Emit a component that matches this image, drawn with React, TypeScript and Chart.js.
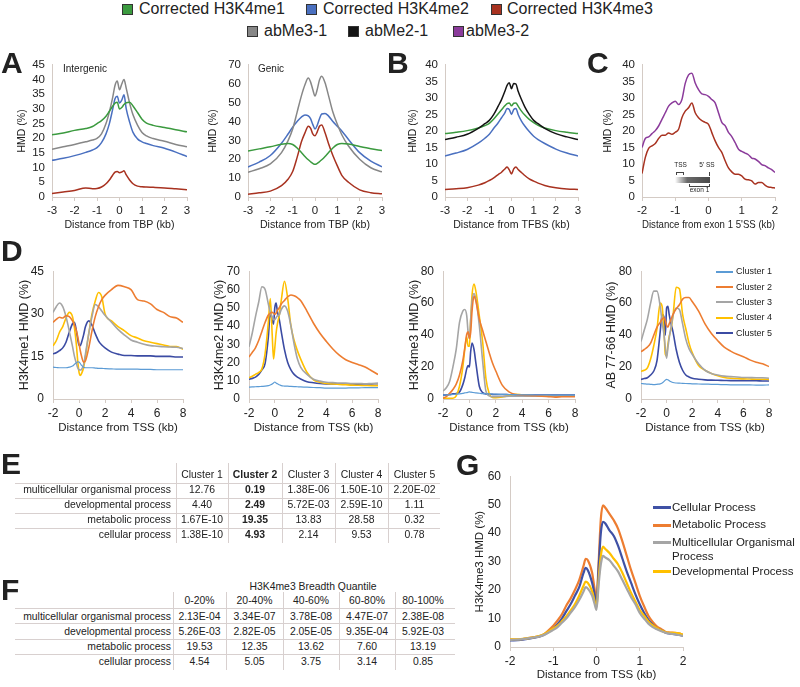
import React, { useEffect, useRef } from "react";
import { Chart, registerables } from "chart.js";

Chart.register(...registerables);

const FONT = '"Liberation Sans", Arial, Helvetica, sans-serif';
const AXIS = "#d4cbc5";
const INK = "#222222";

const C_ME1 = "#3b9a3f";
const C_ME2 = "#4a70c0";
const C_ME3 = "#a83220";
const C_AB31 = "#878787";
const C_AB21 = "#141414";
const C_AB32 = "#8b3b9b";
const C_CL = ["#5b9bd5", "#ed7d31", "#a5a5a5", "#ffc000", "#3b4ba3"];
const C_G = ["#3f51a5", "#ed7d31", "#a5a5a5", "#ffc000"];

// ---------------- DATA ----------------
// Panel A / B : distance (kb)
const xA = [-3, -2.5, -2, -1.5, -1.2, -1, -0.8, -0.6, -0.45, -0.3, -0.2, -0.1, 0, 0.1, 0.2, 0.3, 0.45, 0.6, 0.8, 1, 1.2, 1.5, 2, 2.5, 3];

// A - Intergenic
const aInterMe1 = [21.2, 21.8, 22.7, 23.3, 24, 25, 26, 27.5, 29.2, 31, 32, 32.3, 30, 30.5, 31.5, 32.1, 32.3, 31, 28.8, 26.5, 25.2, 24.4, 23.7, 22.9, 22.2];
const aInterMe2 = [12.5, 13.2, 14.1, 15.2, 16, 16.8, 18.5, 21.5, 25, 30, 33.5, 34.3, 32, 33, 34.8, 30, 25.5, 22, 19.8, 18.8, 18.2, 17.5, 16.6, 15.3, 13.8];
const aInterMe3 = [1.2, 1.7, 2.2, 3.1, 2.8, 2.9, 3.4, 4.5, 5.8, 7.5, 8.5, 8.7, 8.3, 8.5, 8.9, 7.5, 5.8, 4.5, 3.7, 3.5, 3.4, 3.3, 3.1, 2.8, 2.5];
const aInterAb31 = [16.3, 17.1, 17.9, 18.8, 19.4, 20, 21.5, 25, 29, 34, 38, 39.5, 36.5, 38.5, 40, 37, 32, 28, 24.5, 22, 20.8, 19.9, 19, 17.9, 17.1];

// A - Genic
const aGenicMe1 = [24.4, 25.5, 26.6, 28, 28.4, 27.8, 26, 23.5, 21.5, 19.7, 18.7, 17.8, 17.3, 17.8, 18.7, 19.7, 21.5, 23.5, 26, 27.8, 28.4, 28.1, 26.8, 25.6, 24.6];
const aGenicMe2 = [15.9, 18.5, 22, 28.5, 33.5, 37, 40, 42.5, 43.5, 43, 41.5, 38.5, 36, 38, 41.5, 44, 44.3, 43, 40, 37.5, 35, 30.5, 23.5, 19, 16];
const aGenicMe3 = [1.5, 2.2, 3.1, 6, 9.5, 13.5, 21, 29.5, 34, 37.5, 36.5, 33.5, 32.5, 34.5, 37.5, 38.2, 34, 28.5, 22, 16.5, 11.5, 7.8, 3.8, 2.3, 1.7];
const aGenicAb31 = [13.1, 15, 17.5, 23.5, 30, 36, 45, 54, 59.5, 63, 61, 57, 53.5, 57, 62, 64, 60.5, 54, 45, 38.5, 33, 27, 20, 15.5, 13.3];

// B - TFBS
const bAb21 = [17.4, 18.1, 19, 20.8, 22.2, 23.2, 25, 27.5, 29.5, 32, 33.8, 34.6, 32.8, 34.4, 34.2, 32, 29.5, 27.3, 25, 23.2, 22.2, 20.8, 19.2, 18.2, 17.4];
const bMe1 = [19.2, 19.6, 20.1, 20.9, 21.6, 22.3, 23.6, 25.2, 26.4, 27.6, 28.3, 28.5, 27.6, 28.4, 28.5, 27.5, 26, 24.8, 23.5, 22.5, 21.7, 20.9, 20.1, 19.6, 19.2];
const bMe2 = [12.4, 13.3, 14.4, 16.3, 17.8, 19, 20.8, 22.5, 24, 25.5, 26.8, 26.5, 25, 26.5, 26.8, 25, 23, 21.5, 19.8, 18.4, 17.4, 16.2, 14.5, 13.3, 12.4];
const bMe3 = [2.3, 2.5, 2.8, 3.6, 4.3, 5, 5.8, 6.8, 7.5, 8.5, 9.1, 8.2, 7, 8.5, 9.1, 8.3, 7.4, 6.5, 5.5, 4.8, 4.2, 3.5, 2.8, 2.4, 2.3];

// C - exon 1 5'SS
const xC = [-2, -1.9, -1.8, -1.7, -1.6, -1.5, -1.4, -1.3, -1.2, -1.1, -1, -0.9, -0.8, -0.7, -0.6, -0.5, -0.4, -0.3, -0.2, -0.1, 0, 0.1, 0.2, 0.3, 0.4, 0.5, 0.6, 0.7, 0.8, 0.9, 1, 1.1, 1.2, 1.3, 1.4, 1.5, 1.6, 1.7, 1.8, 1.9, 2];
const cAb32 = [15, 17.7, 18.2, 19.2, 20.1, 21.5, 23.5, 25.5, 27.5, 28.5, 29, 28, 29.5, 34.4, 37, 37.5, 34.5, 32.5, 31.2, 31, 30.5, 29.5, 28.5, 25.5, 22.6, 21.6, 19.6, 18.3, 16.5, 14.5, 13.8, 13.3, 12.8, 11.8, 11.5, 10.8, 9.8, 9.5, 8.8, 8.3, 7.4];
const cMe3 = [7.1, 12, 14.7, 15.5, 16.2, 17.7, 18.7, 18.7, 19.4, 19, 19.6, 20.5, 24, 26, 27, 28.5, 25.5, 24, 23.1, 22.6, 22, 19.5, 17, 15, 13.5, 11, 8.8, 7.6, 6.9, 6.9, 6.4, 5.4, 5.2, 4.9, 3.9, 4.4, 4.4, 3.6, 3, 2.9, 2.7];

// D - clusters, distance from TSS
const xD = [-2, -1.75, -1.5, -1.25, -1, -0.75, -0.5, -0.35, -0.2, -0.1, 0, 0.1, 0.2, 0.35, 0.5, 0.75, 1, 1.25, 1.5, 1.75, 2, 2.5, 3, 3.5, 4, 4.5, 5, 5.5, 6, 6.5, 7, 7.5, 8];
const clusterNames = ["Cluster 1", "Cluster 2", "Cluster 3", "Cluster 4", "Cluster 5"];

const dMe1C1 = [11.2, 11.1, 11, 11, 11, 11.2, 11.6, 12.2, 12.8, 13.1, 13, 12.5, 11.8, 11.2, 11, 11, 11, 10.9, 10.8, 10.8, 10.7, 10.6, 10.5, 10.5, 10.5, 10.5, 10.4, 10.4, 10.3, 10.3, 10.3, 10.3, 10.3];
const dMe1C2 = [27, 28, 28.8, 28.5, 29.3, 29, 27.5, 26, 24, 22, 19.5, 17, 15, 13, 13.5, 18, 24, 29, 32.5, 35, 36.5, 38.5, 40, 39.5, 38.5, 35, 34.5, 33.5, 31.5, 30.5, 29, 28.5, 27];
const dMe1C3 = [30.5, 32.5, 33.8, 32.5, 29, 24, 18.5, 15, 12.5, 11, 10.3, 10.2, 10.5, 12, 16, 23, 29, 33.3, 32.5, 31, 29.5, 27, 24.5, 22.5, 20.8, 20, 19.3, 18.8, 18.6, 18.4, 18.3, 18.2, 17.8];
const dMe1C4 = [18.7, 20.5, 23.5, 25.5, 28.5, 30.5, 29, 25, 19, 13.5, 9.5, 8.3, 9, 11, 15, 23, 30, 34.5, 37.5, 36, 30, 27.5, 25.5, 24, 22.3, 21.5, 20.5, 20, 19.5, 19, 18.5, 18.5, 17.5];
const dMe1C5 = [15.9, 16.3, 17, 18, 20, 23.5, 26.5, 27, 24, 21, 19, 18.8, 20, 22.5, 25.5, 27.5, 26, 23, 20.5, 19, 18, 16.5, 15.8, 15.3, 15.3, 15.2, 15.2, 15.2, 15, 15, 15, 14.8, 14.8];

const dMe2C1 = [6.5, 6.6, 6.7, 6.8, 6.9, 7, 7.3, 7.7, 8.2, 8.8, 9.3, 8.8, 8.3, 7.8, 7.3, 7.1, 7, 6.9, 6.8, 6.7, 6.6, 6.5, 6.3, 6.2, 6, 6, 6, 6, 6.1, 6.1, 6.2, 6.2, 6.2];
const dMe2C2 = [23, 25.5, 28, 32, 37, 42, 46, 47, 47.5, 47, 46.5, 47, 48.5, 50, 52, 54, 56, 57, 56.5, 55.5, 54, 48, 41.5, 36, 31.5, 27.4, 24, 21.5, 20, 18.8, 17.5, 15.5, 13.4];
const dMe2C3 = [28.6, 36, 45, 53, 61.5, 60, 52, 47.5, 45, 43.5, 43.5, 44.5, 45.5, 46, 49, 51, 48, 40, 30, 22, 17.5, 13.5, 10.8, 9.8, 9.2, 9, 8.8, 8.7, 8.5, 8.5, 8.3, 8.5, 8.6];
const dMe2C4 = [11.7, 12.5, 13.5, 14.5, 16.5, 25, 42, 55, 35, 22, 28, 36, 41, 46, 54, 64.5, 55, 40, 32, 26.5, 22, 14.5, 10.5, 9.2, 8.5, 8.2, 8, 7.8, 7.6, 7.5, 7.4, 7.3, 7.3];
const dMe2C5 = [10.8, 11.3, 12, 13.5, 16, 19.5, 34, 47.4, 43, 41, 50, 52.5, 48, 43.5, 37, 27, 20, 16, 13.5, 12, 11, 9.5, 8.9, 8.5, 8.3, 8.2, 8.2, 8.2, 8.2, 8.1, 8.2, 8.3, 8.4];

const dMe3C1 = [2.4, 2.5, 2.6, 2.8, 3, 3.2, 3.5, 3.8, 4, 4.2, 4.4, 4.3, 4.2, 4, 3.8, 3.6, 3.4, 3.3, 3.2, 3.1, 3, 2.9, 2.8, 2.7, 2.6, 2.6, 2.5, 2.5, 2.5, 2.4, 2.4, 2.4, 2.4];
const dMe3C2 = [0.5, 1.5, 3.5, 6, 9.3, 15, 24, 32, 40.5, 42, 38, 42, 55, 64.5, 61, 50, 43, 36, 29, 22.5, 17.5, 8.5, 4.5, 2.8, 2.4, 2.2, 2, 1.8, 1.5, 1.2, 1.4, 1.5, 1.4];
const dMe3C3 = [5, 7, 11, 20, 31, 48, 55, 56, 52, 42, 38, 50, 61, 66, 62, 46, 24, 5, 2, 1.5, 1.5, 1.6, 1.7, 1.8, 1.8, 1.8, 1.8, 1.8, 1.8, 1.8, 1.8, 1.8, 1.8];
const dMe3C4 = [0.5, 0.5, 0.5, 0.5, 2, 8, 20, 31, 39, 33, 33, 50, 65, 72, 67, 52, 36, 13, 3.5, 1, 0.8, 1.2, 2, 3, 2.5, 2.2, 2, 2, 1.9, 1.8, 1.8, 1.8, 1.8];
const dMe3C5 = [2.4, 2.5, 2.8, 3.2, 3.5, 4.4, 9, 13.3, 19, 21, 20, 30, 35, 31, 22, 8, 4, 3.2, 3, 2.9, 2.8, 2.8, 2.7, 2.6, 2.5, 2.5, 2.5, 2.4, 2.4, 2.4, 2.4, 2.4, 2.4];

const dAbC1 = [9.7, 9.5, 9.3, 9.2, 9, 9.2, 9.5, 10, 11, 11.8, 12.3, 12, 11.5, 10.8, 10.3, 10, 9.9, 9.8, 9.7, 9.6, 9.5, 9.4, 9.3, 9.2, 9.1, 9, 8.9, 8.9, 8.8, 8.8, 8.7, 8.7, 8.8];
const dAbC2 = [29.6, 31, 32.5, 35, 40, 45, 48, 50, 51, 49, 46, 45, 47, 50, 53, 56.5, 59, 62.5, 63.5, 63.5, 61, 55, 47, 41, 36.5, 32.5, 30, 28, 26.5, 24.5, 23, 22, 20.3];
const dAbC3 = [36, 43, 50, 60, 67.5, 67.5, 58, 48, 40, 32, 25.5, 32, 38, 45, 52, 57, 56, 47, 37.5, 31.5, 28, 22, 18, 16, 15, 14.3, 14, 13.8, 13.5, 13.4, 13.3, 13.3, 13];
const dAbC4 = [17.3, 18, 19.5, 25, 33.5, 44, 60, 58, 42, 28, 27, 34, 39, 44, 52, 70, 69, 53, 44, 35, 29, 21, 18, 16, 14.5, 13.5, 13, 12.8, 12.6, 12.5, 12.4, 12.4, 12.3];
const dAbC5 = [12.3, 12.8, 13.3, 15, 17.5, 24, 42, 53, 51, 40, 57, 58, 53, 47, 42, 31, 23, 18, 15, 13.8, 13, 12.4, 12, 11.8, 11.7, 11.6, 11.5, 11.5, 11.5, 11.4, 11.4, 11.3, 11.3];

// G
const xG = [-2, -1.75, -1.5, -1.25, -1, -0.9, -0.8, -0.7, -0.6, -0.5, -0.4, -0.3, -0.25, -0.2, -0.1, -0.05, 0, 0.05, 0.1, 0.15, 0.2, 0.3, 0.4, 0.5, 0.6, 0.7, 0.8, 0.9, 1, 1.1, 1.2, 1.3, 1.4, 1.5, 1.6, 1.7, 1.8, 1.9, 2];
const gNames = ["Cellular Process", "Metabolic Process", "Multicellular Organismal Process", "Developmental Process"];
const gCellular = [2.3, 2.5, 3.1, 4, 6.5, 8, 10, 12.5, 15, 18, 21, 26, 27.8, 27, 22.5, 19, 15, 28, 40, 44, 43.5, 41, 39, 35.5, 31, 26.5, 22.5, 18.5, 15, 12, 9.5, 7.8, 6.5, 5.8, 5, 4.7, 4.5, 4.3, 4];
const gMetabolic = [2.6, 2.7, 3.3, 4.2, 7.5, 9.3, 11.5, 14.5, 17, 20, 23.5, 28.5, 31, 30.5, 26, 21, 17, 30, 45, 49.8, 49, 46.8, 44.5, 41.5, 37, 32, 27, 22.5, 18, 14.3, 11, 8.8, 7.2, 6.3, 5.3, 5.1, 5, 4.8, 4.3];
const gMulticellular = [2.5, 2.7, 3.2, 4, 6, 7, 8.5, 10, 12, 14, 16.5, 19.5, 21, 20.5, 18, 15.5, 13, 22, 29, 32, 31.5, 30.5, 28.5, 26.5, 23.5, 20.5, 17.5, 15, 12, 10, 8.2, 7, 6.2, 5.5, 5, 4.7, 4.5, 4.2, 3.9];
const gDevelopmental = [2.7, 2.8, 3.3, 4.2, 6.5, 7.5, 9, 10.7, 12.8, 15, 18, 21.5, 23, 22.5, 19.5, 16.5, 14, 24, 32, 35.3, 34.5, 33, 31, 29, 26, 22.5, 19, 16, 13, 11, 9, 7.6, 6.6, 5.8, 5.2, 5, 5, 4.8, 4.3];

// Tables
const processNames = ["multicellular organismal process", "developmental process", "metabolic process", "cellular process"];
const eCols = ["Cluster 1", "Cluster 2", "Cluster 3", "Cluster 4", "Cluster 5"];
const eRow1 = ["12.76", "0.19", "1.38E-06", "1.50E-10", "2.20E-02"];
const eRow2 = ["4.40", "2.49", "5.72E-03", "2.59E-10", "1.11"];
const eRow3 = ["1.67E-10", "19.35", "13.83", "28.58", "0.32"];
const eRow4 = ["1.38E-10", "4.93", "2.14", "9.53", "0.78"];
const fCols = ["0-20%", "20-40%", "40-60%", "60-80%", "80-100%"];
const fRow1 = ["2.13E-04", "3.34E-07", "3.78E-08", "4.47E-07", "2.38E-08"];
const fRow2 = ["5.26E-03", "2.82E-05", "2.05E-05", "9.35E-04", "5.92E-03"];
const fRow3 = ["19.53", "12.35", "13.62", "7.60", "13.19"];
const fRow4 = ["4.54", "5.05", "3.75", "3.14", "0.85"];

// ---------------- COMPONENTS ----------------
type S = { label: string; x: number[]; y: number[]; color: string; w: number };
type P = {
  plot: number[]; cl: number; padR: number; xH: number;
  xMin: number; xMax: number; xStep: number; yMax: number; yStep: number;
  xTitle: string; yTitle: string; xTitleY: number; yTitleX: number;
  tickSize: number; xTitleSize: number; yTitleSize: number; yTickPad: number; xTickPad: number;
  series: S[];
};

function Panel(p: P) {
  const ref = useRef<HTMLCanvasElement | null>(null);
  const [l, t, r, b] = p.plot;
  const padTop = 10;
  const ct = t - padTop;
  const W = r - p.cl + p.padR;
  const H = b + p.xH - ct;
  const yW = l - p.cl;
  useEffect(() => {
    if (!ref.current) return;
    const xlh = p.xTitleSize * 1.2;
    const ylh = p.yTitleSize * 1.2;
    const chart = new Chart(ref.current, {
      type: "line",
      data: {
        datasets: p.series.map((s) => ({
          label: s.label,
          data: s.x.map((x, i) => ({ x, y: s.y[i] })),
          borderColor: s.color,
          backgroundColor: s.color,
          borderWidth: s.w,
          pointRadius: 0,
          cubicInterpolationMode: "monotone",
          fill: false,
        })),
      },
      options: {
        responsive: false,
        animation: false,
        devicePixelRatio: 1,
        layout: { padding: { top: padTop, right: p.padR, left: 0, bottom: 0 } },
        plugins: { legend: { display: false }, tooltip: { enabled: false } },
        scales: {
          x: {
            type: "linear",
            min: p.xMin,
            max: p.xMax,
            ticks: { stepSize: p.xStep, font: { family: FONT, size: p.tickSize }, color: INK, padding: p.xTickPad, maxRotation: 0, autoSkip: false },
            grid: { display: true, drawOnChartArea: false, drawTicks: true, tickLength: 4, color: AXIS },
            border: { display: true, color: AXIS, width: 1 },
            title: {
              display: true, text: p.xTitle, color: INK,
              font: { family: FONT, size: p.xTitleSize },
              padding: { top: 0, bottom: b + p.xH - p.xTitleY - xlh / 2 },
            },
            afterFit: (s: any) => { s.height = p.xH; },
          },
          y: {
            type: "linear",
            min: 0,
            max: p.yMax,
            ticks: { stepSize: p.yStep, font: { family: FONT, size: p.tickSize }, color: INK, padding: p.yTickPad, autoSkip: false },
            grid: { display: false, drawTicks: false },
            border: { display: true, color: AXIS, width: 1 },
            title: {
              display: true, text: p.yTitle, color: INK,
              font: { family: FONT, size: p.yTitleSize },
              padding: { top: p.yTitleX - p.cl - ylh / 2, bottom: 0 },
            },
            afterFit: (s: any) => { s.width = yW; },
          },
        },
      },
    } as any);
    return () => chart.destroy();
  }, []);
  return (
    <canvas
      ref={ref}
      width={W}
      height={H}
      style={{ position: "absolute", left: p.cl, top: ct, width: W, height: H }}
    />
  );
}

function T(props: { x: number; y: number; s: number; a?: string; b?: boolean; c?: string; children: any }) {
  const { x, y, s, a = "start", b = false, c = INK } = props;
  const tx = a === "middle" ? "translateX(-50%)" : a === "end" ? "translateX(-100%)" : "none";
  return (
    <div
      style={{
        position: "absolute", left: x, top: y - s * 0.49, fontSize: s, lineHeight: `${s}px`,
        fontFamily: FONT, fontWeight: b ? 700 : 400, color: c, whiteSpace: "nowrap", transform: tx,
      }}
    >
      {props.children}
    </div>
  );
}

function Box(props: { x: number; y: number; w: number; h: number; bg: string; border?: string }) {
  return (
    <div
      style={{
        position: "absolute", left: props.x, top: props.y, width: props.w, height: props.h,
        background: props.bg, border: props.border, boxSizing: "border-box",
      }}
    />
  );
}

const base = { cl: 0, padR: 12, xH: 38, tickSize: 11.5, xTitleSize: 10.6, yTitleSize: 10.5, yTickPad: 7, xTickPad: 3, xTitleY: 225 };
const baseD = { padR: 14, xH: 40, xMin: -2, xMax: 8, xStep: 2, tickSize: 12, xTitleSize: 11.5, yTitleSize: 12.5, yTickPad: 9, xTickPad: 3, xTitleY: 428, xTitle: "Distance from TSS (kb)" };

function clusterSeries(x: number[], ys: number[][]): S[] {
  return ys.map((y, i) => ({ label: clusterNames[i], x, y, color: C_CL[i], w: i === 0 ? 1.2 : 1.6 }));
}

function Table(props: {
  cols: string[]; rows: string[][]; colX: number[]; sepX: number[]; hLines: number[]; lineX: number[];
  vTop: number; vBot: number; headY: number; rowY: number[]; boldCol?: number; s: number;
}) {
  const LC = "#d8d0cf";
  const out: any[] = [];
  props.hLines.forEach((y, i) => out.push(<Box key={"h" + i} x={props.lineX[0]} y={y} w={props.lineX[1] - props.lineX[0]} h={1} bg={LC} />));
  props.sepX.forEach((x, i) => out.push(<Box key={"v" + i} x={x} y={props.vTop} w={1} h={props.vBot - props.vTop} bg={LC} />));
  props.cols.forEach((c, i) => out.push(<T key={"c" + i} x={props.colX[i]} y={props.headY} s={props.s} a="middle" b={props.boldCol === i}>{c}</T>));
  props.rows.forEach((row, ri) => {
    out.push(<T key={"l" + ri} x={171} y={props.rowY[ri]} s={props.s} a="end">{processNames[ri]}</T>);
    row.forEach((v, ci) => out.push(<T key={"r" + ri + "_" + ci} x={props.colX[ci]} y={props.rowY[ri]} s={props.s} a="middle" b={props.boldCol === ci}>{v}</T>));
  });
  return <>{out}</>;
}

export default function App() {
  const topLegend = [
    { label: "Corrected H3K4me1", color: C_ME1, sx: 122, tx: 139, y: 9 },
    { label: "Corrected H3K4me2", color: C_ME2, sx: 306, tx: 323, y: 9 },
    { label: "Corrected H3K4me3", color: C_ME3, sx: 491, tx: 507, y: 9 },
    { label: "abMe3-1", color: C_AB31, sx: 247, tx: 264, y: 31 },
    { label: "abMe2-1", color: C_AB21, sx: 348, tx: 365, y: 31 },
    { label: "abMe3-2", color: C_AB32, sx: 453, tx: 466, y: 31 },
  ];
  const dLegY = [271.7, 287.3, 302.3, 317.7, 333.3];
  const gLeg = [
    { lines: ["Cellular Process"], y: 507.7, color: C_G[0] },
    { lines: ["Metabolic Process"], y: 525, color: C_G[1] },
    { lines: ["Multicellular Organismal", "Process"], y: 542.3, color: C_G[2] },
    { lines: ["Developmental Process"], y: 571.7, color: C_G[3] },
  ];

  return (
    <div style={{ position: "absolute", left: 0, top: 0, width: 800, height: 687, background: "#fff", overflow: "hidden" }}>
      {/* Panel A */}
      <Panel {...base} cl={2} plot={[52, 61, 187, 197]} xMin={-3} xMax={3} xStep={1} yMax={45} yStep={5}
        xTitle="Distance from TBP (kb)" yTitle="HMD (%)" yTitleX={22}
        series={[
          { label: "Corrected H3K4me1", x: xA, y: aInterMe1, color: C_ME1, w: 1.5 },
          { label: "abMe3-1", x: xA, y: aInterAb31, color: C_AB31, w: 1.5 },
          { label: "Corrected H3K4me2", x: xA, y: aInterMe2, color: C_ME2, w: 1.5 },
          { label: "Corrected H3K4me3", x: xA, y: aInterMe3, color: C_ME3, w: 1.5 },
        ]} />
      <Panel {...base} cl={200} plot={[248, 61, 382, 197]} xMin={-3} xMax={3} xStep={1} yMax={70} yStep={10}
        xTitle="Distance from TBP (kb)" yTitle="HMD (%)" yTitleX={213}
        series={[
          { label: "Corrected H3K4me1", x: xA, y: aGenicMe1, color: C_ME1, w: 1.5 },
          { label: "abMe3-1", x: xA, y: aGenicAb31, color: C_AB31, w: 1.5 },
          { label: "Corrected H3K4me2", x: xA, y: aGenicMe2, color: C_ME2, w: 1.5 },
          { label: "Corrected H3K4me3", x: xA, y: aGenicMe3, color: C_ME3, w: 1.5 },
        ]} />
      {/* Panel B */}
      <Panel {...base} cl={398} plot={[445, 61, 578, 197]} xMin={-3} xMax={3} xStep={1} yMax={40} yStep={5}
        xTitle="Distance from TFBS (kb)" yTitle="HMD (%)" yTitleX={413}
        series={[
          { label: "abMe2-1", x: xA, y: bAb21, color: C_AB21, w: 1.5 },
          { label: "Corrected H3K4me1", x: xA, y: bMe1, color: C_ME1, w: 1.5 },
          { label: "Corrected H3K4me2", x: xA, y: bMe2, color: C_ME2, w: 1.5 },
          { label: "Corrected H3K4me3", x: xA, y: bMe3, color: C_ME3, w: 1.5 },
        ]} />
      {/* Panel C */}
      <Panel {...base} cl={592} padR={14} plot={[642, 61, 775, 197]} xMin={-2} xMax={2} xStep={1} yMax={40} yStep={5}
        xTitle="Distance from exon 1 5'SS (kb)" yTitle="HMD (%)" yTitleX={608}
        series={[
          { label: "abMe3-2", x: xC, y: cAb32, color: C_AB32, w: 1.5 },
          { label: "Corrected H3K4me3", x: xC, y: cMe3, color: C_ME3, w: 1.5 },
        ]} />
      {/* Panel D */}
      <Panel {...baseD} cl={2} plot={[53, 265, 183, 399]} yMax={45} yStep={15} yTitle="H3K4me1 HMD (%)" yTitleX={25}
        series={clusterSeries(xD, [dMe1C1, dMe1C2, dMe1C3, dMe1C4, dMe1C5])} />
      <Panel {...baseD} cl={200} plot={[249, 265, 378, 399]} yMax={70} yStep={10} yTitle="H3K4me2 HMD (%)" yTitleX={220}
        series={clusterSeries(xD, [dMe2C1, dMe2C2, dMe2C3, dMe2C4, dMe2C5])} />
      <Panel {...baseD} cl={396} plot={[443, 265, 575, 399]} yMax={80} yStep={20} yTitle="H3K4me3 HMD (%)" yTitleX={415}
        series={clusterSeries(xD, [dMe3C1, dMe3C2, dMe3C3, dMe3C4, dMe3C5])} />
      <Panel {...baseD} cl={592} plot={[641, 265, 769, 399]} yMax={80} yStep={20} yTitle="AB 77-66 HMD (%)" yTitleX={612}
        series={clusterSeries(xD, [dAbC1, dAbC2, dAbC3, dAbC4, dAbC5])} />
      {/* Panel G */}
      <Panel cl={466} padR={15} xH={38} plot={[510, 470, 683, 647]} xMin={-2} xMax={2} xStep={1} yMax={60} yStep={10}
        tickSize={12} xTitleSize={11.5} yTitleSize={11.5} yTickPad={9} xTickPad={3} xTitleY={675}
        xTitle="Distance from TSS (kb)" yTitle="H3K4me3 HMD (%)" yTitleX={480}
        series={[
          { label: gNames[2], x: xG, y: gMulticellular, color: C_G[2], w: 2.2 },
          { label: gNames[3], x: xG, y: gDevelopmental, color: C_G[3], w: 2.2 },
          { label: gNames[0], x: xG, y: gCellular, color: C_G[0], w: 2.2 },
          { label: gNames[1], x: xG, y: gMetabolic, color: C_G[1], w: 2.2 },
        ]} />

      {/* Top legend */}
      {topLegend.map((it, i) => (
        <React.Fragment key={"tl" + i}>
          <Box x={it.sx} y={it.y - 5.5} w={11} h={11} bg={it.color} border="1px solid #333" />
          <T x={it.tx} y={it.y} s={16}>{it.label}</T>
        </React.Fragment>
      ))}

      {/* Panel letters */}
      <T x={1} y={63} s={30} b>A</T>
      <T x={387} y={63} s={30} b>B</T>
      <T x={587} y={63} s={30} b>C</T>
      <T x={1} y={251} s={30} b>D</T>
      <T x={1} y={463.5} s={30} b>E</T>
      <T x={1} y={590} s={30} b>F</T>
      <T x={456} y={465} s={30} b>G</T>

      <T x={63} y={69} s={10}>Intergenic</T>
      <T x={258} y={69} s={10}>Genic</T>

      {/* C inset: exon 1 diagram */}
      <T x={680.5} y={165.5} s={6.5} a="middle">TSS</T>
      <div style={{ position: "absolute", left: 676, top: 172, width: 8, height: 3, borderTop: "1px solid #444", borderLeft: "1px solid #444", borderRight: "1px solid #444", boxSizing: "border-box" }} />
      <T x={707} y={165.5} s={6.5} a="middle">5' SS</T>
      <Box x={709} y={172} w={1} h={4} bg="#444" />
      <div style={{ position: "absolute", left: 675, top: 177, width: 35, height: 6, background: "linear-gradient(to right, #ffffff 0%, #6a6a6a 35%, #4a4a4a 100%)" }} />
      <div style={{ position: "absolute", left: 689, top: 184, width: 21, height: 3, borderBottom: "1px solid #444", borderLeft: "1px solid #444", borderRight: "1px solid #444", boxSizing: "border-box" }} />
      <T x={699.5} y={190.5} s={6.5} a="middle">exon 1</T>

      {/* D legend */}
      {clusterNames.map((n, i) => (
        <React.Fragment key={"dl" + i}>
          <Box x={716} y={dLegY[i] - 1} w={17} h={2} bg={C_CL[i]} />
          <T x={736} y={dLegY[i]} s={9}>{n}</T>
        </React.Fragment>
      ))}

      {/* G legend */}
      {gLeg.map((g, i) => (
        <React.Fragment key={"gl" + i}>
          <Box x={653} y={g.y - 1.5} w={18} h={3} bg={g.color} />
          {g.lines.map((ln, j) => (
            <T key={j} x={672} y={g.y + j * 14} s={11.5}>{ln}</T>
          ))}
        </React.Fragment>
      ))}

      {/* Table E */}
      <Table cols={eCols} rows={[eRow1, eRow2, eRow3, eRow4]}
        colX={[202, 255, 308.5, 361.5, 414.5]} sepX={[176, 228, 282, 335, 388]}
        hLines={[483, 498, 513, 528]} lineX={[15, 440]} vTop={463} vBot={543}
        headY={475} rowY={[490, 505, 520.5, 535.5]} boldCol={1} s={10.4} />

      {/* Table F */}
      <T x={313} y={587} s={10.4} a="middle">H3K4me3 Breadth Quantile</T>
      <Table cols={fCols} rows={[fRow1, fRow2, fRow3, fRow4]}
        colX={[199.5, 254.5, 311, 367, 423]} sepX={[173, 226, 283, 339, 395]}
        hLines={[607.5, 623, 638.5, 654]} lineX={[15, 455]} vTop={592} vBot={670}
        headY={601} rowY={[616.7, 631.7, 646.7, 662]} s={10.4} />
    </div>
  );
}
